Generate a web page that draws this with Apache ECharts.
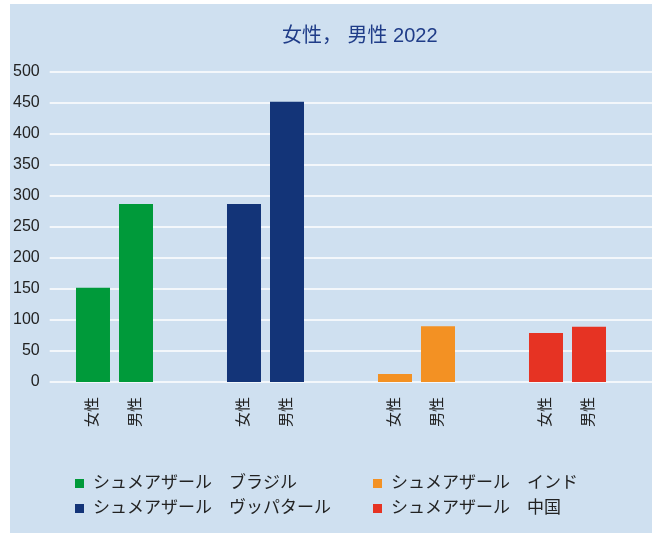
<!DOCTYPE html>
<html>
<head>
<meta charset="utf-8">
<script src="https://cdn.jsdelivr.net/npm/echarts@6/dist/echarts.min.js"></script>
<style>
  html, body { margin: 0; padding: 0; background: #ffffff; }
  #chart { position: absolute; left: 10px; top: 4px; width: 642px; height: 529px; }
</style>
</head>
<body>
<div id="chart"></div>
<script>
// ---- data ----
const titleText = '女性， 男性 2022';
const countries = ['シュメアザール　ブラジル', 'シュメアザール　ヴッパタール', 'シュメアザール　インド', 'シュメアザール　中国'];
const sexes = ['女性', '男性'];
const female = [152, 287, 13, 79];
const male = [287, 452, 90, 89];
const yTicks = [0, 50, 100, 150, 200, 250, 300, 350, 400, 450, 500];
const colors = ['#009a3a', '#133478', '#f39123', '#e63323'];

const FONT = "'Liberation Sans', 'Noto Sans CJK JP', sans-serif";
const chart = echarts.init(document.getElementById('chart'), null, { renderer: 'canvas' });

const series = [];
countries.forEach((name, i) => {
  [female, male].forEach((vals, s) => {
    series.push({
      name: name,
      type: 'bar',
      xAxisIndex: 0,
      yAxisIndex: 0,
      stack: 's' + s,
      barWidth: 34,
      barGap: '26.5%',
      itemStyle: { color: colors[i] },
      label: {
        show: true,
        position: 'bottom',
        distance: 15,
        rotate: 90,
        align: 'right',
        verticalAlign: 'middle',
        formatter: () => sexes[s],
        fontSize: 15,
        color: '#222',
        fontFamily: FONT
      },
      emphasis: { disabled: true },
      data: vals.map((v, j) => (j === i ? v : '-'))
    });
  });
});

const legendCommon = {
  orient: 'vertical',
  top: 466,
  itemGap: 8,
  icon: 'rect',
  itemWidth: 9,
  itemHeight: 9,
  selectedMode: false,
  textStyle: { fontSize: 17, color: '#222', fontFamily: FONT, padding: [0, 0, 0, 4] }
};

chart.setOption({
  animation: false,
  backgroundColor: '#cfe0f0',
  textStyle: { fontFamily: FONT },
  title: {
    text: titleText,
    left: 267,
    top: 17,
    textStyle: { fontSize: 20, fontWeight: 'normal', color: '#1f3c88', fontFamily: FONT }
  },
  legend: [
    Object.assign({ data: [countries[0], countries[1]], left: 60 }, legendCommon),
    Object.assign({ data: [countries[2], countries[3]], left: 358 }, legendCommon)
  ],
  grid: [
    { left: 29, right: 9, top: 68, bottom: 151 },
    { left: 38, right: 0, top: 68, bottom: 151 }
  ],
  xAxis: [
    { type: 'category', gridIndex: 0, data: countries, show: false },
    { type: 'category', gridIndex: 1, data: countries, show: false }
  ],
  yAxis: [
    { type: 'value', gridIndex: 0, min: 0, max: 500, interval: 50, show: false, splitLine: { show: false } },
    {
      type: 'value', gridIndex: 1, min: yTicks[0], max: yTicks[yTicks.length - 1], interval: 50,
      axisLine: { show: false }, axisTick: { show: false },
      axisLabel: { fontSize: 16, color: '#222', margin: 10, fontFamily: FONT },
      splitLine: { show: true, lineStyle: { color: '#ffffff', width: 1.5 } }
    }
  ],
  series: series
});
</script>
</body>
</html>
